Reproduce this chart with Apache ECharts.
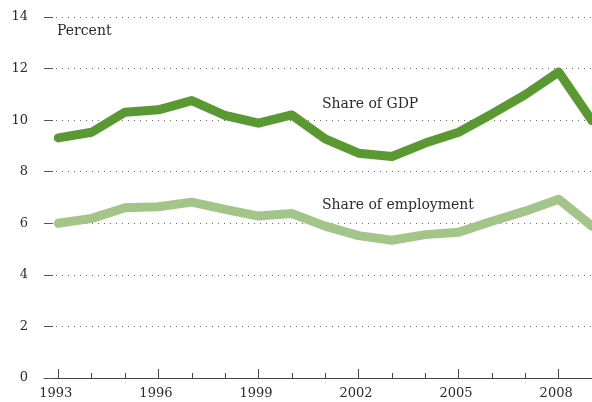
<!DOCTYPE html>
<html>
<head>
<meta charset="utf-8">
<script src="https://cdn.jsdelivr.net/npm/echarts@6/dist/echarts.min.js"></script>
<style>
  html, body { margin: 0; padding: 0; background: #fff; }
  #chart { width: 592px; height: 402px; }
</style>
</head>
<body>
<div id="chart"></div>
<script>
// years on the x axis
const years = [1993, 1994, 1995, 1996, 1997, 1998, 1999, 2000, 2001,
               2002, 2003, 2004, 2005, 2006, 2007, 2008, 2009];
// percent values
const gdpShare = [9.31, 9.53, 10.31, 10.40, 10.76, 10.18, 9.88, 10.20, 9.27,
                  8.72, 8.59, 9.11, 9.53, 10.24, 10.99, 11.87, 9.98];
const employmentShare = [6.00, 6.19, 6.60, 6.64, 6.82, 6.54, 6.28, 6.38, 5.89,
                         5.52, 5.34, 5.56, 5.65, 6.08, 6.47, 6.93, 5.89];
const majorYears = [1993, 1996, 1999, 2002, 2005, 2008];

const font = "DejaVu Serif";
const textColor = "#2b2b2b";

let chart = echarts.init(document.getElementById("chart"));

const opts = {
    animation: false,
    grid: {
        left: 44,
        right: 0,
        top: 17,
        bottom: 24,
    },
    xAxis: [
        {
            type: "value",
            min: 1992.57,
            max: 2009,
            position: "bottom",
            axisLine: { show: true, lineStyle: { color: "#444", width: 1 } },
            axisTick: {
                show: true,
                inside: true,
                length: 5,
                customValues: years,
                lineStyle: { color: "#444", width: 1 },
            },
            axisLabel: { show: false },
            splitLine: { show: false },
        },
        {
            type: "value",
            min: 1992.57,
            max: 2009,
            position: "bottom",
            offset: 0,
            axisLine: { show: false },
            axisTick: {
                show: true,
                inside: true,
                length: 9,
                customValues: majorYears,
                lineStyle: { color: "#444", width: 1 },
            },
            axisLabel: {
                show: true,
                customValues: majorYears,
                formatter: (v) => String(v),
                fontFamily: font,
                fontSize: 13,
                color: textColor,
                margin: 9,
                padding: [0, 5, 0, 0],
            },
            splitLine: { show: false },
        },
    ],
    yAxis: {
        type: "value",
        min: 0,
        max: 14,
        interval: 2,
        axisLine: { show: false },
        axisTick: {
            show: true,
            inside: true,
            length: 9,
            lineStyle: { color: "#555", width: 1 },
        },
        axisLabel: {
            fontFamily: font,
            fontSize: 13,
            color: textColor,
            margin: 16,
        },
        splitLine: {
            show: true,
            lineStyle: { color: "#666", width: 1, type: [1, 5] },
        },
    },
    graphic: [
        {
            type: "text", x: 57, y: 31,
            style: { text: "Percent", font: "14px " + font, fill: textColor, verticalAlign: "middle" },
        },
        {
            type: "text", x: 322, y: 104,
            style: { text: "Share of GDP", font: "14px " + font, fill: textColor, verticalAlign: "middle" },
        },
        {
            type: "text", x: 322, y: 205,
            style: { text: "Share of employment", font: "14px " + font, fill: textColor, verticalAlign: "middle" },
        },
    ],
    series: [
        {
            name: "Share of employment",
            type: "line",
            xAxisIndex: 0,
            data: years.map((y, i) => [y, employmentShare[i]]),
            symbol: "none",
            lineStyle: { color: "#a4c589", width: 9, cap: "round", join: "round" },
        },
        {
            name: "Share of GDP",
            type: "line",
            xAxisIndex: 0,
            data: years.map((y, i) => [y, gdpShare[i]]),
            symbol: "none",
            lineStyle: { color: "#5a9831", width: 9, cap: "round", join: "round" },
        },
    ],
};
chart.setOption(opts);
</script>
</body>
</html>
